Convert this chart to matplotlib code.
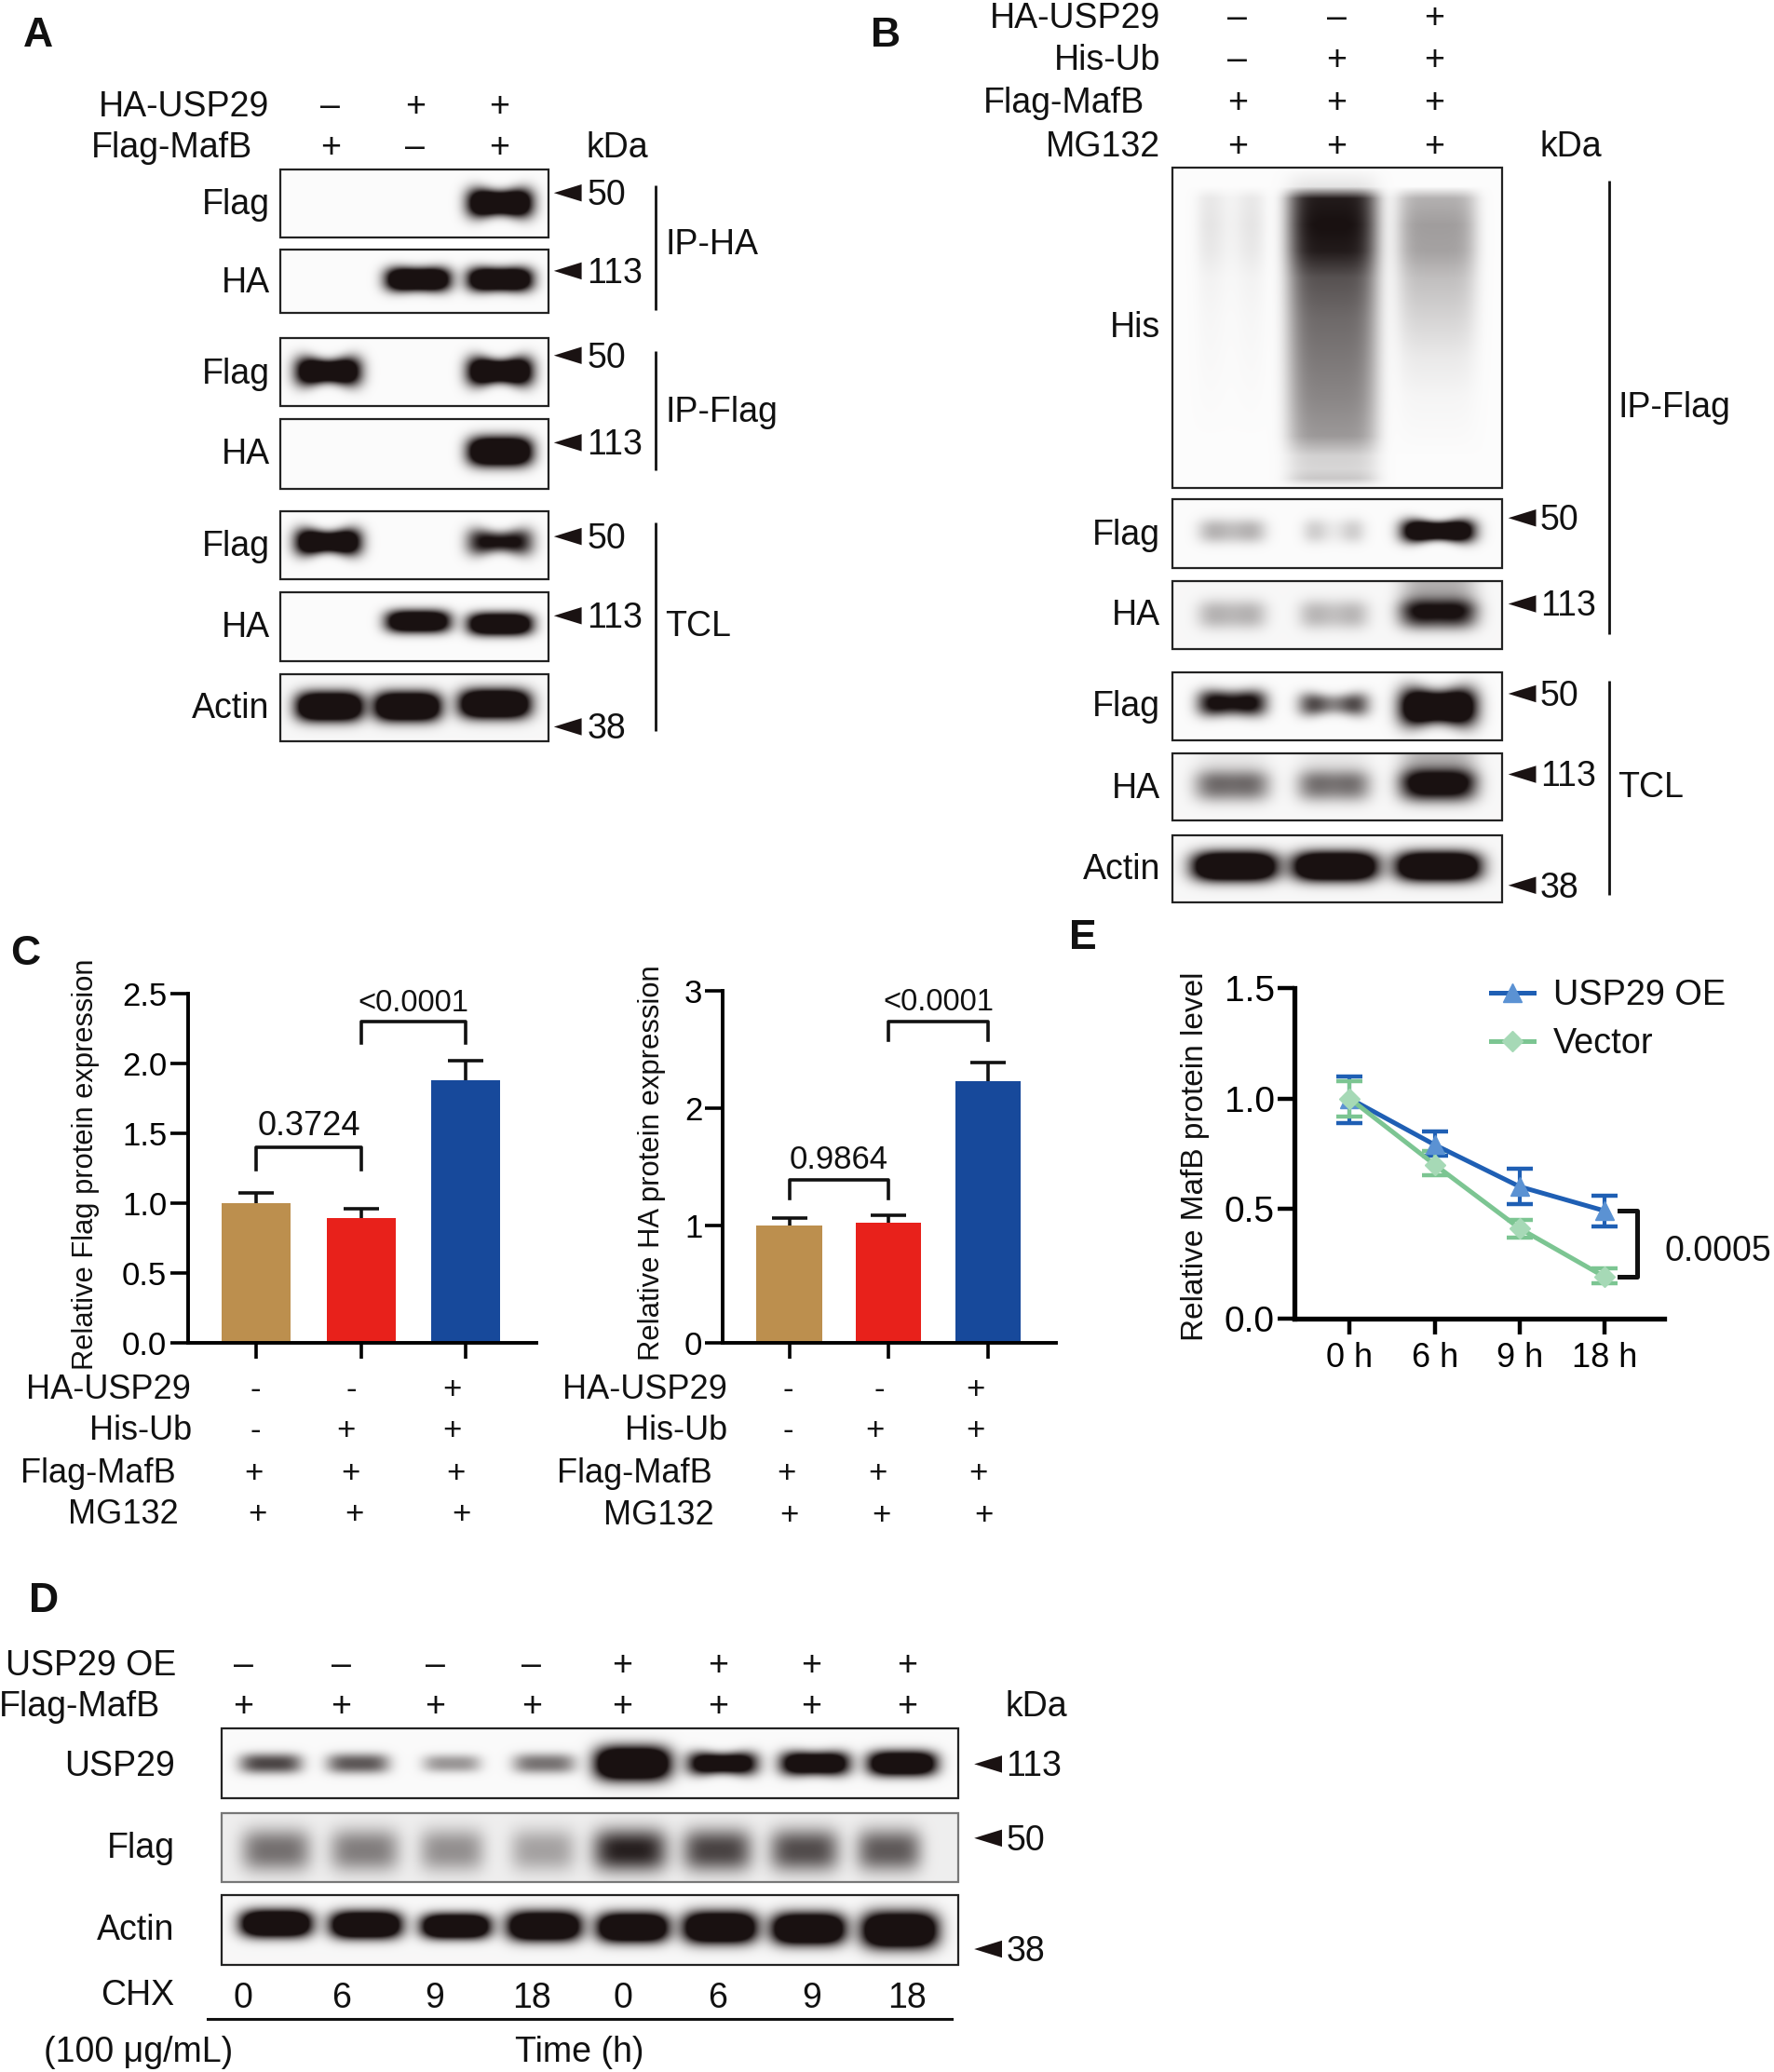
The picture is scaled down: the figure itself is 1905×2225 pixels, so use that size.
import numpy as np
import matplotlib
matplotlib.use("Agg")
import matplotlib.pyplot as plt
from matplotlib.patches import Polygon, Rectangle

plt.rcParams["font.family"] = ["Liberation Sans", "DejaVu Sans"]

# bar charts
groups = ["ctrl", "ub", "usp29"]
flag_vals = [1.0, 0.89, 1.88]
flag_err = [0.07, 0.07, 0.14]
ha_vals = [1.0, 1.02, 2.23]
ha_err = [0.06, 0.07, 0.16]
flag_ticks = [0.0, 0.5, 1.0, 1.5, 2.0, 2.5]
ha_ticks = [0, 1, 2, 3]
bar_colors = ["#BC8F4E", "#E8211B", "#17499B"]

# decay curve
time_labels = ["0 h", "6 h", "9 h", "18 h"]
usp29_mean = [1.0, 0.79, 0.60, 0.49]
usp29_low = [0.89, 0.74, 0.52, 0.42]
usp29_high = [1.10, 0.85, 0.68, 0.56]
vector_mean = [1.0, 0.70, 0.41, 0.19]
vector_low = [0.92, 0.65, 0.37, 0.16]
vector_high = [1.08, 0.76, 0.45, 0.23]
decay_ticks = [0.0, 0.5, 1.0, 1.5]

# band strength per lane, panel A
a_flag_ipha = [0, 0, 1.0]
a_ha_ipha = [0, 1.0, 1.0]
a_flag_ipflag = [0.95, 0, 1.0]
a_ha_ipflag = [0, 0, 1.0]
a_flag_tcl = [1.0, 0, 0.62]
a_ha_tcl = [0, 0.9, 0.95]
a_actin = [1.0, 1.0, 1.0]

# panel B
b_his_stations = [127, 141, 150, 170, 190, 210, 240, 270, 300, 330, 345, 355, 362, 369]
b_his_lane1 = [0, 0, 0.10, 0.12, 0.10, 0.05, 0.03, 0.02, 0.01, 0, 0, 0, 0, 0]
b_his_lane2 = [0, 0.10, 0.95, 1.0, 0.95, 0.72, 0.62, 0.56, 0.50, 0.42, 0.18, 0.16, 0.22, 0]
b_his_lane3 = [0, 0, 0.32, 0.40, 0.38, 0.26, 0.17, 0.08, 0.03, 0.01, 0, 0, 0, 0]
b_flag_ip = [0.2, 0.15, 1.0]
b_ha_ip = [0.18, 0.18, 0.5]
b_flag_tcl = [0.7, 0.55, 1.0]
b_ha_tcl = [0.32, 0.32, 0.6]
b_actin = [1.0, 1.0, 1.0]

# panel D
d_usp29 = [0.4, 0.36, 0.22, 0.3, 1.0, 0.8, 0.85, 0.9]
d_flag = [0.28, 0.25, 0.21, 0.17, 0.46, 0.38, 0.36, 0.33]
d_actin = [1.0, 1.0, 1.0, 1.0, 1.0, 1.0, 1.0, 1.0]
d_chx = ["0", "6", "9", "18", "0", "6", "9", "18"]

W, H = 1342.0, 1568.0
INK = np.array([0.10, 0.07, 0.07])
fig = plt.figure(figsize=(19.05, 22.25), dpi=100)
page = fig.add_axes([0, 0, 1, 1])
page.set_xlim(0, W)
page.set_ylim(H, 0)
page.axis("off")


def put(x, y, s, size=27, ha="center", **kw):
    page.text(x, y + 4, s, fontsize=size, ha=ha, va="center", color="#111111", **kw)


def grid(x0, y0, x1, y1):
    xs = np.linspace(x0, x1, int((x1 - x0) * 1.42))
    ys = np.linspace(y0, y1, int((y1 - y0) * 1.42))
    return np.meshgrid(xs, ys)


def show(d, x0, y0, x1, y1, edge="#222222"):
    d = np.clip(d, 0, 1)[..., None]
    page.imshow(1 - d * (1 - INK), extent=(x0, x1, y1, y0), aspect="auto", interpolation="bilinear", zorder=1)
    page.add_patch(Rectangle((x0, y0), x1 - x0, y1 - y0, fill=False, ec=edge, lw=1.6, zorder=2))


def blot(box, lanes, widths, values, cy, h, dip=0.0, waist=0.0, smear=None, bg=0.015, edge="#222222"):
    x0, y0, x1, y1 = box
    X, Y = grid(x0, y0, x1, y1)
    d = np.full(X.shape, bg)
    n = len(lanes)
    cy = np.broadcast_to(cy, n)
    h = np.broadcast_to(h, n)
    dip = np.broadcast_to(dip, n)
    waist = np.broadcast_to(waist, n)
    smear = np.broadcast_to(0.0 if smear is None else smear, n)
    for i in range(n):
        if values[i] <= 0:
            continue
        dx = X - lanes[i]
        mid = np.exp(-(dx / (widths[i] * 0.26)) ** 2)
        hh = 0.85 * h[i] * (1 - waist[i] * mid)
        across = np.exp(-np.abs(dx / (widths[i] * 0.42)) ** 4)
        along = np.exp(-np.abs((Y - cy[i]) / (hh / 2)) ** 2.4)
        d += 1.9 * values[i] * across * along * (1 - dip[i] * mid)
        if smear[i] > 0:
            fade = 1 / (1 + np.exp((Y - cy[i]) / 3.0))
            d += smear[i] * across * fade * (1 - 0.25 * (cy[i] - Y) / (cy[i] - y0))
    show(d, x0, y0, x1, y1, edge)


def his_blot(box, lanes, widths, profiles, dips):
    x0, y0, x1, y1 = box
    X, Y = grid(x0, y0, x1, y1)
    d = np.full(X.shape, 0.012)
    for lane, w, prof, dip in zip(lanes, widths, profiles, dips):
        dx = X - lane
        across = np.exp(-np.abs(dx / (w / 2)) ** 5)
        d += np.interp(Y, b_his_stations, prof) * across * (1 - dip * np.exp(-(dx / (w * 0.24)) ** 2))
    show(d, x0, y0, x1, y1)


def arrow(x, y):
    page.add_patch(Polygon([(x, y), (x + 21, y - 6.5), (x + 21, y + 6.5)], closed=True, fc=INK, ec="none", zorder=3))


def vbar(x, y0, y1):
    page.plot([x, x], [y0, y1], color="#111111", lw=2.0, solid_capstyle="butt")


def sub_axes(x0, y0, x1, y1):
    ax = fig.add_axes([x0 / W, 1 - y1 / H, (x1 - x0) / W, (y1 - y0) / H])
    ax.patch.set_alpha(0)
    return ax


# panel A
put(29, 23, "A", 32, fontweight="bold")
put(204, 77, "HA-USP29", ha="right")
put(191, 108, "Flag-MafB", ha="right")
for x, a, b in zip([250, 314, 378], ["–", "+", "+"], ["+", "–", "+"]):
    put(x, 77, a)
    put(x, 108, b)
put(467, 108, "kDa")
a_x = (212, 415)
a_lanes = [248, 316, 378]
a_w = [58, 58, 58]
blot((a_x[0], 128, a_x[1], 180), a_lanes, a_w, a_flag_ipha, 154, 28, waist=0.25)
blot((a_x[0], 189, a_x[1], 237), a_lanes, a_w, a_ha_ipha, 212, 22, waist=0.1)
blot((a_x[0], 256, a_x[1], 307), a_lanes, a_w, a_flag_ipflag, 281, 28, waist=0.3)
blot((a_x[0], 317, a_x[1], 370), a_lanes, a_w, a_ha_ipflag, 342, 26)
blot((a_x[0], 387, a_x[1], 438), a_lanes, a_w, a_flag_tcl, 410, 26, waist=0.3, dip=0.1)
blot((a_x[0], 448, a_x[1], 500), a_lanes, a_w, a_ha_tcl, [470, 470, 472], 20)
blot((a_x[0], 510, a_x[1], 561), [249, 308, 374], [60, 60, 64], a_actin, [535, 535, 533], 26, bg=0.03)
for y, s in zip([151, 210, 279, 340, 410, 471, 532], ["Flag", "HA", "Flag", "HA", "Flag", "HA", "Actin"]):
    put(204, y, s, ha="right")
for y, s in zip([144, 203, 267, 333, 404, 464, 548], ["50", "113", "50", "113", "50", "113", "38"]):
    put(444, y, s, ha="left")
    arrow(419, y + 2)
vbar(496, 140, 235)
vbar(496, 266, 356)
vbar(496, 395, 553)
put(503, 181, "IP-HA", ha="left")
put(503, 308, "IP-Flag", ha="left")
put(503, 470, "TCL", ha="left")

# panel B
put(670, 23, "B", 32, fontweight="bold")
b_rows = [("HA-USP29", 10, ["–", "–", "+"], 878), ("His-Ub", 42, ["–", "+", "+"], 878),
          ("Flag-MafB", 74, ["+", "+", "+"], 866), ("MG132", 107, ["+", "+", "+"], 878)]
for name, y, signs, right in b_rows:
    put(right, y, name, ha="right")
    for x, s in zip([936, 1011, 1085], signs):
        put(x, y, s)
put(1188, 107, "kDa")
b_x = (887, 1136)
b_lanes = [932, 1009, 1088]
his_blot((b_x[0], 127, b_x[1], 369), [931, 1008, 1087], [50, 68, 60], [b_his_lane1, b_his_lane2, b_his_lane3], [0.6, 0, 0])
blot((b_x[0], 378, b_x[1], 430), b_lanes, [58, 52, 64], b_flag_ip, 402, 22, dip=[0.3, 0.7, 0], waist=[0, 0, 0.3])
blot((b_x[0], 440, b_x[1], 491), b_lanes, [60, 60, 68], b_ha_ip, 465, 26, dip=[0.2, 0.3, 0.1], smear=[0, 0, 0.4], bg=0.03)
blot((b_x[0], 509, b_x[1], 560), b_lanes, [60, 60, 68], b_flag_tcl, [532, 533, 535], [24, 22, 36], dip=[0.2, 0.5, 0], waist=[0.1, 0.2, 0.25])
blot((b_x[0], 570, b_x[1], 621), b_lanes, [66, 64, 68], b_ha_tcl, 595, 28, dip=[0.1, 0.15, 0], smear=[0.08, 0.08, 0.38], bg=0.03)
blot((b_x[0], 632, b_x[1], 683), [934, 1010, 1088], [76, 76, 76], b_actin, 656, 26, bg=0.03)
for y, s in zip([401, 462, 531, 593, 654], ["Flag", "HA", "Flag", "HA", "Actin"]):
    put(878, y, s, ha="right")
put(878, 244, "His", ha="right")
for y, s, ay in zip([390, 455, 523, 584, 668], ["50", "113", "50", "113", "38"], [392, 457, 525, 586, 670]):
    put(1165, y, s, ha="left")
    arrow(1141, ay)
vbar(1217, 137, 480)
vbar(1217, 515, 677)
put(1224, 305, "IP-Flag", ha="left")
put(1224, 592, "TCL", ha="left")

# panel C
put(19, 718, "C", 32, fontweight="bold")


def bars(box, vals, errs, ticks, ymax, left, right, pairs, br_a, br_b):
    ax = sub_axes(*box)
    x = np.arange(len(groups))
    ax.bar(x, vals, width=0.66, color=bar_colors)
    zeros = [0] * len(errs)
    eb = ax.errorbar(x, vals, yerr=[zeros, errs], fmt="none", ecolor="#111111", elinewidth=2.6, capsize=14, capthick=2.6)
    eb[1][0].set_visible(False)
    ax.set_xlim(left, right)
    ax.set_ylim(0, ymax)
    ax.set_xticks(x)
    ax.set_xticklabels([])
    ax.set_yticks(ticks)
    ax.set_yticklabels([str(t) for t in ticks])
    ax.tick_params(axis="y", length=14, width=2.6, labelsize=25, pad=2)
    ax.tick_params(axis="x", length=12, width=2.6)
    for side in ["top", "right"]:
        ax.spines[side].set_visible(False)
    for side in ["left", "bottom"]:
        ax.spines[side].set_linewidth(2.8)
    for (a, b), (lo, hi), lab, size in zip(pairs, [br_a[:2], br_b[:2]], [br_a[2], br_b[2]], [br_a[3], br_b[3]]):
        ax.plot([a, a, b, b], [lo, hi, hi, lo], color="#111111", lw=2.6)
        ax.text((a + b) / 2, hi + ymax * 0.012, lab, ha="center", va="bottom", fontsize=size, color="#111111")


bars((142, 752, 406, 1016), flag_vals, flag_err, flag_ticks, 2.5, -0.658, 2.68, [(0, 1), (1, 2)],
     (1.24, 1.40, "0.3724", 26), (2.15, 2.30, "<0.0001", 23.5))
bars((547, 750, 799, 1016), ha_vals, ha_err, ha_ticks, 3, -0.667, 2.69, [(0, 1), (1, 2)],
     (1.23, 1.39, "0.9864", 25), (2.58, 2.74, "<0.0001", 23.5))
put(65, 877, "Relative Flag protein expression", 22.2, rotation=90)
put(493, 876, "Relative HA protein expression", 22.3, rotation=90)
c_names = ["HA-USP29", "His-Ub", "Flag-MafB", "MG132"]
c_y_left = [1048, 1079, 1111, 1142]
c_y_right = [1048, 1079, 1111, 1143]
c_right_left = [144, 145, 133, 135]
c_right_right = [550, 550, 539, 540]
c_signs = [["-", "-", "+"], ["-", "+", "+"], ["+", "+", "+"], ["+", "+", "+"]]
c_x_left = [[193, 266, 342], [193, 262, 342], [192, 265, 345], [195, 268, 349]]
c_x_right = [[596, 665, 738], [596, 662, 738], [595, 664, 740], [597, 667, 744]]
for i in range(4):
    put(c_right_left[i], c_y_left[i], c_names[i], 26, ha="right")
    put(c_right_right[i], c_y_right[i], c_names[i], 26, ha="right")
    for j in range(3):
        put(c_x_left[i][j], c_y_left[i], c_signs[i][j], 25)
        put(c_x_right[i][j], c_y_right[i], c_signs[i][j], 25)

# panel D
put(33, 1208, "D", 32, fontweight="bold")
d_lanes = [184, 258, 329, 402, 471, 543, 614, 686]
put(133, 1257, "USP29 OE", ha="right")
put(121, 1288, "Flag-MafB", ha="right")
for i, x in enumerate(d_lanes):
    put(x, 1257, "–" if i < 4 else "+")
    put(x, 1288, "+")
    put(x, 1508, d_chx[i])
put(784, 1288, "kDa")
d_x = (168, 725)
blot((d_x[0], 1308, d_x[1], 1361), [205, 271, 342, 412, 479, 547, 617, 683], [56, 56, 52, 56, 68, 62, 62, 62],
     d_usp29, 1335, [18, 18, 16, 18, 30, 22, 22, 22], waist=[0, 0, 0, 0, 0, 0.2, 0.1, 0], bg=0.02)
blot((d_x[0], 1372, d_x[1], 1424), [209, 276, 342, 411, 477, 543, 609, 673], [62, 62, 58, 58, 66, 62, 62, 58],
     d_flag, 1400, 38, bg=0.07, edge="#777777")
blot((d_x[0], 1434, d_x[1], 1487), [209, 277, 345, 412, 479, 545, 612, 681], [64, 64, 62, 66, 64, 66, 66, 68],
     d_actin, [1456, 1457, 1458, 1458, 1459, 1459, 1460, 1461], [24, 24, 22, 26, 26, 28, 28, 32], bg=0.03)
for y, s in zip([1333, 1395, 1457], ["USP29", "Flag", "Actin"]):
    put(132, y, s, ha="right")
for y, s, ay in zip([1333, 1389, 1473], ["113", "50", "38"], [1335, 1391, 1475]):
    put(761, y, s, ha="left")
    arrow(737, ay)
put(132, 1506, "CHX", ha="right")
page.plot([157, 720], [1528, 1528], color="#111111", lw=2.2)
put(105, 1549, "(100 μg/mL)")
put(438, 1549, "Time (h)")

# panel E
put(819, 706, "E", 32, fontweight="bold")
ax = sub_axes(979, 748, 1259, 998)
x = np.arange(len(time_labels))
ax.errorbar(x, usp29_mean, yerr=[np.subtract(usp29_mean, usp29_low), np.subtract(usp29_high, usp29_mean)],
            color="#1F5FB4", lw=3.6, elinewidth=3, capsize=10, capthick=3.2, marker="^", ms=14, mfc="#5B92D3", mec="#5B92D3")
ax.errorbar(x, vector_mean, yerr=[np.subtract(vector_mean, vector_low), np.subtract(vector_high, vector_mean)],
            color="#7CC592", lw=3.6, elinewidth=3, capsize=10, capthick=3.2, marker="D", ms=11, mfc="#A6D9B6", mec="#A6D9B6")
ax.set_xlim(-0.653, 3.70)
ax.set_ylim(0, 1.5)
ax.set_xticks(x)
ax.set_xticklabels(time_labels)
ax.set_yticks(decay_ticks)
ax.set_yticklabels([str(t) for t in decay_ticks])
ax.tick_params(axis="y", length=13, width=3.2, labelsize=28, pad=2)
ax.tick_params(axis="x", length=12, width=3.2, labelsize=26, pad=6)
for side in ["top", "right"]:
    ax.spines[side].set_visible(False)
for side in ["left", "bottom"]:
    ax.spines[side].set_linewidth(3.8)
ax.plot([3.17, 3.38, 3.38, 3.17], [usp29_mean[3], usp29_mean[3], vector_mean[3], vector_mean[3]],
        color="#111111", lw=3.6, clip_on=False)
put(904, 871, "Relative MafB protein level", 24, rotation=90)
put(1259, 943, "0.0005", 27, ha="left")
page.plot([1128, 1160], [751, 751], color="#1F5FB4", lw=3.6)
page.plot([1144], [751], marker="^", ms=14, color="#5B92D3")
page.plot([1128, 1160], [788, 788], color="#7CC592", lw=3.6)
page.plot([1144], [788], marker="D", ms=11, color="#A6D9B6")
put(1175, 749, "USP29 OE", 27.3, ha="left")
put(1175, 786, "Vector", 27.3, ha="left")

page.set_xlim(0, W)
page.set_ylim(H, 0)
fig.savefig("out.png", dpi=100)
